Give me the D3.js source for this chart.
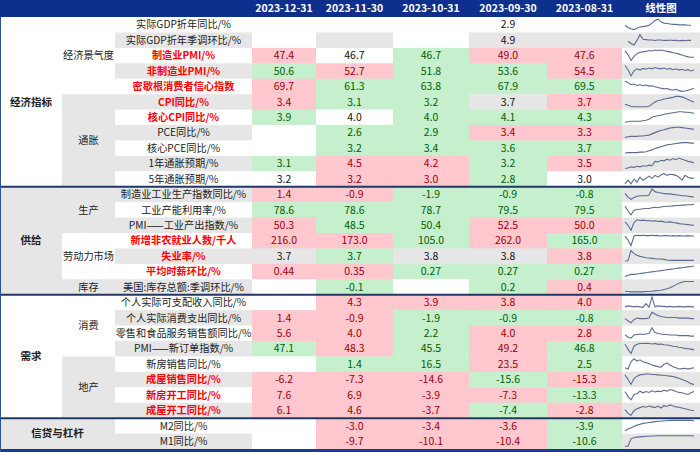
<!DOCTYPE html>
<html><head><meta charset="utf-8">
<script src="https://cdn.jsdelivr.net/npm/d3@7"></script>
<style>
html,body{margin:0;padding:0;background:#fff;}
svg{display:block;font-family:"Noto Sans CJK SC","Noto Sans",sans-serif;}
</style></head>
<body><svg id="c" width="700" height="452"></svg>
<script>
const dates = ["2023-12-31","2023-11-30","2023-10-31","2023-09-30","2023-08-31"];
const sparkTitle = "线性图";
const indicators = [
 "实际GDP折年同比/%","实际GDP折年季调环比/%","制造业PMI/%","非制造业PMI/%","密歇根消费者信心指数",
 "CPI同比/%","核心CPI同比/%","PCE同比/%","核心PCE同比/%","1年通胀预期/%","5年通胀预期/%",
 "制造业工业生产指数同比/%","工业产能利用率/%","PMI——工业产出指数/%","新增非农就业人数/千人","失业率/%","平均时薪环比/%","美国:库存总额:季调环比/%",
 "个人实际可支配收入同比/%","个人实际消费支出同比/%","零售和食品服务销售额同比/%","PMI——新订单指数/%","新房销售同比/%","成屋销售同比/%","新房开工同比/%","成屋开工同比/%",
 "M2同比/%","M1同比/%"
];
const highlighted = ["制造业PMI/%","非制造业PMI/%","密歇根消费者信心指数","CPI同比/%","核心CPI同比/%","新增非农就业人数/千人","失业率/%","平均时薪环比/%","成屋销售同比/%","新房开工同比/%","成屋开工同比/%"];
const groups = [
 {name:"经济指标", first:0, last:10},
 {name:"供给", first:11, last:17},
 {name:"需求", first:18, last:25},
 {name:"信贷与杠杆", first:26, last:27}
];
const subgroups = [
 {name:"经济景气度", first:0, last:4},
 {name:"通胀", first:5, last:10},
 {name:"生产", first:11, last:13},
 {name:"劳动力市场", first:14, last:16},
 {name:"库存", first:17, last:17},
 {name:"消费", first:18, last:21},
 {name:"地产", first:22, last:25}
];
const values = [
 [null,null,null,2.9,null],
 [null,null,null,4.9,null],
 [47.4,46.7,46.7,49.0,47.6],
 [50.6,52.7,51.8,53.6,54.5],
 [69.7,61.3,63.8,67.9,69.5],
 [3.4,3.1,3.2,3.7,3.7],
 [3.9,4.0,4.0,4.1,4.3],
 [null,2.6,2.9,3.4,3.3],
 [null,3.2,3.4,3.6,3.7],
 [3.1,4.5,4.2,3.2,3.5],
 [3.2,3.2,3.0,2.8,3.0],
 [1.4,-0.9,-1.9,-0.9,-0.8],
 [78.6,78.6,78.7,79.5,79.5],
 [50.3,48.5,50.4,52.5,50.0],
 [216.0,173.0,105.0,262.0,165.0],
 [3.7,3.7,3.8,3.8,3.8],
 [0.44,0.35,0.27,0.27,0.27],
 [null,-0.1,null,0.2,0.4],
 [null,4.3,3.9,3.8,4.0],
 [1.4,-0.9,-1.9,-0.9,-0.8],
 [5.6,4.0,2.2,4.0,2.8],
 [47.1,48.3,45.5,49.2,46.8],
 [null,1.4,16.5,23.5,2.5],
 [-6.2,-7.3,-14.6,-15.6,-15.3],
 [7.6,6.9,-3.9,-7.3,-13.3],
 [6.1,4.6,-3.7,-7.4,-2.8],
 [null,-3.0,-3.4,-3.6,-3.9],
 [null,-9.7,-10.1,-10.4,-10.6]
];
const decimals = [1,1,1,1,1,1,1,1,1,1,1,1,1,1,1,1,2,1,1,1,1,1,1,1,1,1,1,1];
// p = worse (pink), g = better (green), n = no fill, w = white fill
const states = [
 "nnnnn","wnwnn","pngpp","gpggp","pgggg","pggnp","gnggg","wggpp","ngggg","gppgp",
 "nppgn","ppggg","ggggg","pggpp","ppgpg","ngnnp","ppggg","wgwgp",
 "npppp","ppggg","ppgpp","gpgpg","nggpg","pppgp","ppppg","pppgp",
 "npppg","wpppg"
];
const sparks = [
 [25,20,17,15,18,21,22,23,25,30,36,39,33,30,29,28,27,27,26,26,26,25,25,null],
 [null,23,17,13,25,40,28,27,26,26,25,26,26,25,25,26,25,25,24,25,24,25,25,null],
 [34,26,13,22,28,31,32,33,35,34,36,35,36,35,33,32,30,29,27,25,23,21,20,20],
 [35,25,10,22,27,24,28,26,29,27,30,28,27,29,26,28,25,27,24,26,23,25,22,24],
 [41,36,30,32,28,30,27,29,26,27,24,22,20,18,19,16,15,17,13,11,12,14,17,19],
 [22,20,18,17,17,17,17,17,18,22,26,29,30,32,33,34,35,37,37,36,34,31,28,26],
 [14,15,16,16,16,16,17,18,20,24,26,27,28,30,31,32,33,34,35,35,34,34,33,32],
 [9,11,12,12,12,13,13,14,15,18,21,24,26,28,30,32,33,34,34,33,32,31,30,29],
 [10,11,11,11,11,12,12,13,15,17,20,22,24,26,28,29,30,31,32,33,33,33,32,32],
 [10,11,13,12,14,13,15,14,16,15,23,22,25,24,27,25,28,26,29,27,25,23,22,20],
 [12,22,12,25,17,30,22,27,33,27,35,30,36,40,35,38,37,35,30,22,35,30,27,28],
 [23,15,10,14,17,18,18,18,19,33,27,25,24,23,22,22,21,20,19,18,18,17,16,15],
 [33,20,10,22,24,25,26,27,27,29,30,29,31,32,33,33,34,35,35,36,36,37,37,38],
 [30,20,6,28,36,34,35,33,34,32,33,31,32,30,29,30,28,27,25,24,23,22,21,20],
 [29,20,7,29,31,30,31,30,30,31,30,30,29,30,30,29,30,29,30,29,29,30,29,29],
 [8,9,39,30,25,22,20,18,17,16,15,14,14,13,11,10,10,10,10,10,10,10,10,10],
 [7,10,12,12,13,14,15,16,17,18,19,20,21,22,23,24,25,26,27,28,29,30,31,32],
 [7,6,5,5,5,5,5,6,6,7,8,9,10,12,14,17,21,26,30,33,35,35,35,35],
 [15,17,16,15,16,15,14,22,14,36,15,17,16,16,15,16,15,15,16,15,15,16,15,15],
 [18,14,10,16,19,18,18,18,19,30,27,24,22,21,20,20,20,20,19,19,19,19,18,18],
 [22,17,15,21,22,23,22,23,24,35,26,24,23,22,22,21,21,21,20,20,20,20,19,19],
 [33,20,8,28,33,35,35,36,35,34,35,33,34,32,31,30,28,27,25,24,22,21,20,18],
 [15,12,30,38,32,35,30,28,25,22,20,18,17,24,27,22,18,15,12,13,14,12,14,15],
 [31,20,8,22,28,31,32,33,33,32,32,31,30,30,29,28,27,25,23,20,17,14,10,8],
 [27,15,7,20,22,28,24,27,25,29,26,28,27,30,28,32,30,27,25,24,22,20,24,27],
 [18,8,3,15,20,23,26,24,27,25,23,27,22,28,26,30,27,25,24,22,20,18,16,15],
 [10,14,17,20,23,25,27,28,29,30,31,32,32,33,33,34,34,34,34,34,34,34,34,33],
 [5,5,32,37,38,39,40,41,41,42,42,43,43,43,43,43,43,43,43,43,43,43,43,42]
];

// ---- layout ----
const W = 700, headerH = 17, tableBottom = 449;
const GRAY = "#e7e6e6", PINK = "#ffc7ce", GREEN = "#c6efce", HEAD = "#0f2f8c", NAVY = "#1f3864";
const colA = [0,62], colB = [62,115], colC = [115,252];
const dateX = d3.scaleOrdinal(dates, [252,316,393,469,547]);
const dateW = d3.scaleOrdinal(dates, [64,77,76,78,75]);
const sparkCol = [622,700];
const y = d3.scaleBand().domain(d3.range(indicators.length)).range([headerH, tableBottom]);
const rh = y.bandwidth();
const rowBg = i => i % 2 === 0 ? "#ffffff" : GRAY;
const loc = d3.formatLocale({decimal:".", thousands:",", grouping:[3], currency:["",""], minus:"-"});

const svg = d3.select("#c");
svg.append("rect").attr("width",700).attr("height",452).attr("fill","#fff");

// header
svg.append("rect").attr("x",0).attr("y",0).attr("width",W).attr("height",headerH).attr("fill",HEAD);
const hdr = svg.append("g").attr("font-size",10.5).attr("font-weight","bold").attr("fill","#fff").attr("text-anchor","middle");
dates.forEach(d => hdr.append("text").attr("x",dateX(d)+dateW(d)/2).attr("y",headerH/2).attr("dy","0.36em").text(d));
hdr.append("text").attr("x",(sparkCol[0]+sparkCol[1])/2).attr("y",headerH/2).attr("dy","0.36em").text(sparkTitle);

const rows = svg.append("g").selectAll("g").data(indicators).join("g");
rows.append("rect").attr("x",colC[0]).attr("y",(d,i)=>y(i)).attr("width",colC[1]-colC[0]).attr("height",rh+0.5).attr("fill",(d,i)=>rowBg(i));
rows.append("rect").attr("x",sparkCol[0]).attr("y",(d,i)=>y(i)).attr("width",sparkCol[1]-sparkCol[0]).attr("height",rh+0.5).attr("fill",(d,i)=>rowBg(i));
rows.append("text").attr("x",(colC[0]+colC[1])/2).attr("y",(d,i)=>y(i)+rh/2).attr("dy","0.36em")
  .attr("text-anchor","middle").attr("font-size",10.2)
  .attr("font-weight",d=>highlighted.includes(d)?"bold":"normal")
  .attr("fill",d=>highlighted.includes(d)?"#ff0000":"#222")
  .text(d=>d);

// value cells
const fillFor = (s,i) => s==="p"?PINK : s==="g"?GREEN : s==="w"?"#ffffff" : rowBg(i);
const textFor = s => s==="p"?"#9c0006" : s==="g"?"#006100" : "#111";
indicators.forEach((name,i) => {
  dates.forEach((d,j) => {
    const s = states[i][j];
    svg.append("rect").attr("x",dateX(d)).attr("y",y(i)).attr("width",dateW(d)).attr("height",rh+0.5).attr("fill",fillFor(s,i));
    const v = values[i][j];
    if (v !== null) {
      svg.append("text").attr("x",dateX(d)+dateW(d)/2).attr("y",y(i)+rh/2).attr("dy","0.36em")
        .attr("text-anchor","middle").attr("font-size",10.5).attr("fill",textFor(s))
        .text(loc.format("."+decimals[i]+"f")(v));
    }
  });
});

// sparklines
const sx = d3.scaleLinear().domain([0,23]).range([625,694]);
indicators.forEach((name,i) => {
  const data = sparks[i];
  const ext = d3.extent(data.filter(v=>v!==null));
  const sy = d3.scaleLinear().domain(ext).range([y(i)+rh-2.8, y(i)+2.2]);
  const line = d3.line().defined(v=>v!==null).x((v,k)=>sx(k)).y(v=>sy(v));
  svg.append("path").attr("d",line(data)).attr("fill","none").attr("stroke","#5a6d90").attr("stroke-width",1.1);
});

// group (A) and subgroup (B) merged cells
const gA = svg.append("g");
groups.forEach((g,k) => {
  const spanB = g.name === "信贷与杠杆";
  const x1 = spanB ? colB[1] : colA[1];
  const top = y(g.first), bot = y(g.last)+rh;
  gA.append("rect").attr("x",colA[0]).attr("y",top).attr("width",x1-colA[0]).attr("height",bot-top).attr("fill",k%2===0?"#fff":GRAY);
  gA.append("text").attr("x",(colA[0]+x1)/2).attr("y",(top+bot)/2).attr("dy","0.36em").attr("text-anchor","middle")
    .attr("font-size",10.5).attr("font-weight","bold").attr("fill","#222").text(g.name);
});
const subFill = ["#fff",GRAY,GRAY,"#fff",GRAY,"#fff",GRAY];
subgroups.forEach((g,k) => {
  const top = y(g.first), bot = y(g.last)+rh;
  gA.append("rect").attr("x",colB[0]).attr("y",top).attr("width",colB[1]-colB[0]).attr("height",bot-top).attr("fill",subFill[k]);
  gA.append("text").attr("x",(colB[0]+colB[1])/2).attr("y",(top+bot)/2).attr("dy","0.36em").attr("text-anchor","middle")
    .attr("font-size",10.2).attr("fill","#222").text(g.name);
});

// separators between groups
groups.slice(1).forEach(g => {
  svg.append("line").attr("x1",0).attr("x2",W).attr("y1",y(g.first)).attr("y2",y(g.first))
    .attr("stroke",NAVY).attr("stroke-width",2);
});
svg.append("rect").attr("x",0).attr("y",tableBottom).attr("width",W).attr("height",452-tableBottom).attr("fill","#1a3a8e");
svg.append("line").attr("x1",0.5).attr("x2",0.5).attr("y1",headerH).attr("y2",452).attr("stroke","#2f5597").attr("stroke-width",1);
</script></body></html>
